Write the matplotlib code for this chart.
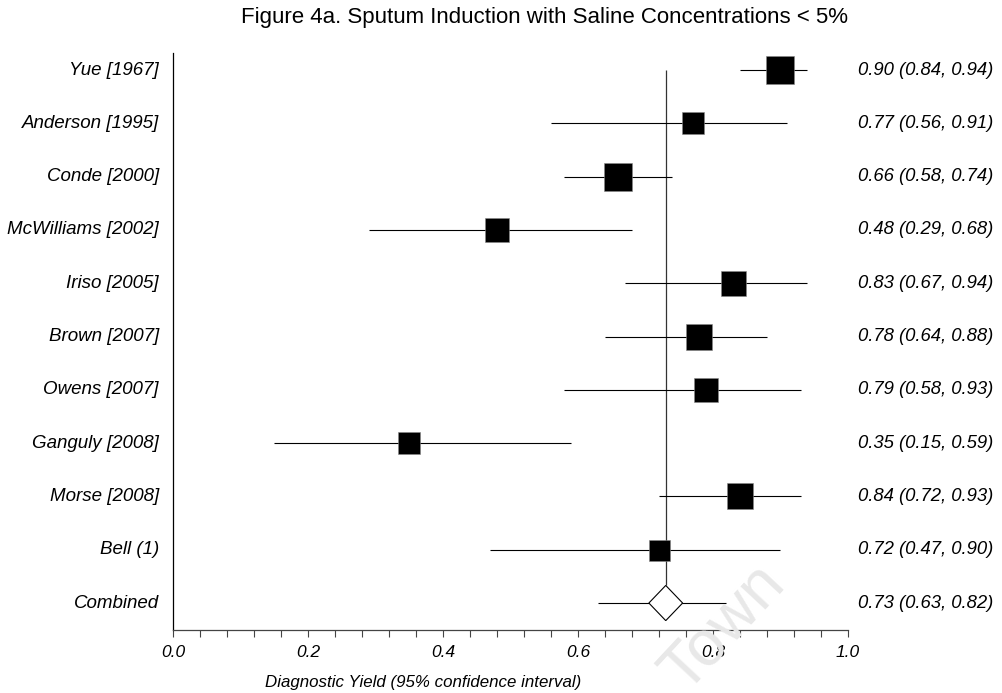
import matplotlib
matplotlib.use("Agg")
import matplotlib.pyplot as plt
from matplotlib.patches import Polygon
import matplotlib.transforms as mtransforms

plt.rcParams['font.family'] = ['Liberation Sans', 'DejaVu Sans']

studies = ["Yue [1967]", "Anderson [1995]", "Conde [2000]", "McWilliams [2002]",
           "Iriso [2005]", "Brown [2007]", "Owens [2007]", "Ganguly [2008]",
           "Morse [2008]", "Bell (1)"]
estimates = [0.90, 0.77, 0.66, 0.48, 0.83, 0.78, 0.79, 0.35, 0.84, 0.72]
lower = [0.84, 0.56, 0.58, 0.29, 0.67, 0.64, 0.58, 0.15, 0.72, 0.47]
upper = [0.94, 0.91, 0.74, 0.68, 0.94, 0.88, 0.93, 0.59, 0.93, 0.90]
weights = [28, 23, 28, 23.3, 25, 26.7, 23.3, 22.7, 26.7, 21]  # square side (px)

combined_label = "Combined"
combined_est = 0.73
combined_lo = 0.63
combined_hi = 0.82

xticks = [0.0, 0.2, 0.4, 0.6, 0.8, 1.0]
xticklabels = ["0.0", "0.2", "0.4", "0.6", "0.8", "1.0"]

title = "Figure 4a. Sputum Induction with Saline Concentrations < 5%"
xlabel = "Diagnostic Yield (95% confidence interval)"

W, H = 1003, 693
fig = plt.figure(figsize=(W / 100, H / 100), dpi=100)
ax = fig.add_axes([173 / W, 1 - 630 / H, 675 / W, (630 - 53) / H])

n = len(studies)
ys = list(range(n))
comb_y = n

# CI lines
ax.hlines(ys, lower, upper, color='black', lw=0.8, zorder=2)
ax.hlines([comb_y], [combined_lo], [combined_hi], color='black', lw=0.8, zorder=2)

# squares
for y, e, w in zip(ys, estimates, weights):
    ax.plot([e], [y], marker='s', ms=w * 72 / 100, color='black', mec='#888888',
            mew=0.4, zorder=3, linestyle='none')

# diamond
dw, dh = 0.025, 0.33
diamond = Polygon([[combined_est - dw, comb_y], [combined_est, comb_y - dh],
                   [combined_est + dw, comb_y], [combined_est, comb_y + dh]],
                  closed=True, facecolor='white', edgecolor='black', lw=0.8, zorder=4)
ax.add_patch(diamond)

# vertical line at combined estimate
ax.vlines([combined_est], 0, comb_y - dh, color='#333333', lw=0.9, zorder=1)

ax.set_xlim(0, 1)
ax.set_ylim(comb_y + 0.506, -0.319)

for s in ['top', 'right']:
    ax.spines[s].set_visible(False)
ax.spines['left'].set_linewidth(0.9)
ax.spines['bottom'].set_linewidth(0.9)
ax.spines['bottom'].set_color('#444444')

ax.set_yticks([])
ax.set_xticks([i * 0.04 for i in range(26)], minor=True)
ax.set_xticks(xticks)
ax.set_xticklabels(xticklabels, fontsize=12.5, style='italic')
ax.tick_params(axis='x', which='both', direction='out', length=5, width=0.8,
               color='#444444', pad=6)

ax.set_xlabel(xlabel, fontsize=12.2, style='italic', labelpad=10)
ax.xaxis.set_label_coords((423 - 173) / 675, -(683 - 630) / 577)
ax.xaxis.label.set_va('center')
fig.text(545 / W, 1 - 18 / H, title, ha='center', va='center', fontsize=16)

trans = mtransforms.blended_transform_factory(ax.transAxes, ax.transData)
labels_all = studies + [combined_label]
ests_all = estimates + [combined_est]
los_all = lower + [combined_lo]
his_all = upper + [combined_hi]
for i, (lab, e, lo, hi) in enumerate(zip(labels_all, ests_all, los_all, his_all)):
    ax.text(-14 / 675, i, lab, transform=trans, ha='right', va='center',
            fontsize=13.5, style='italic')
    ax.text((993 - 173) / 675, i, f"{e:.2f} ({lo:.2f}, {hi:.2f})", transform=trans,
            ha='right', va='center', fontsize=13.3, style='italic')

# faint watermark
fig.text(724 / W, 1 - 628 / H, "Town", fontsize=46, color='#e8e8e8', rotation=47,
         ha='center', va='center', zorder=0)

fig.savefig("out.png", dpi=100)
